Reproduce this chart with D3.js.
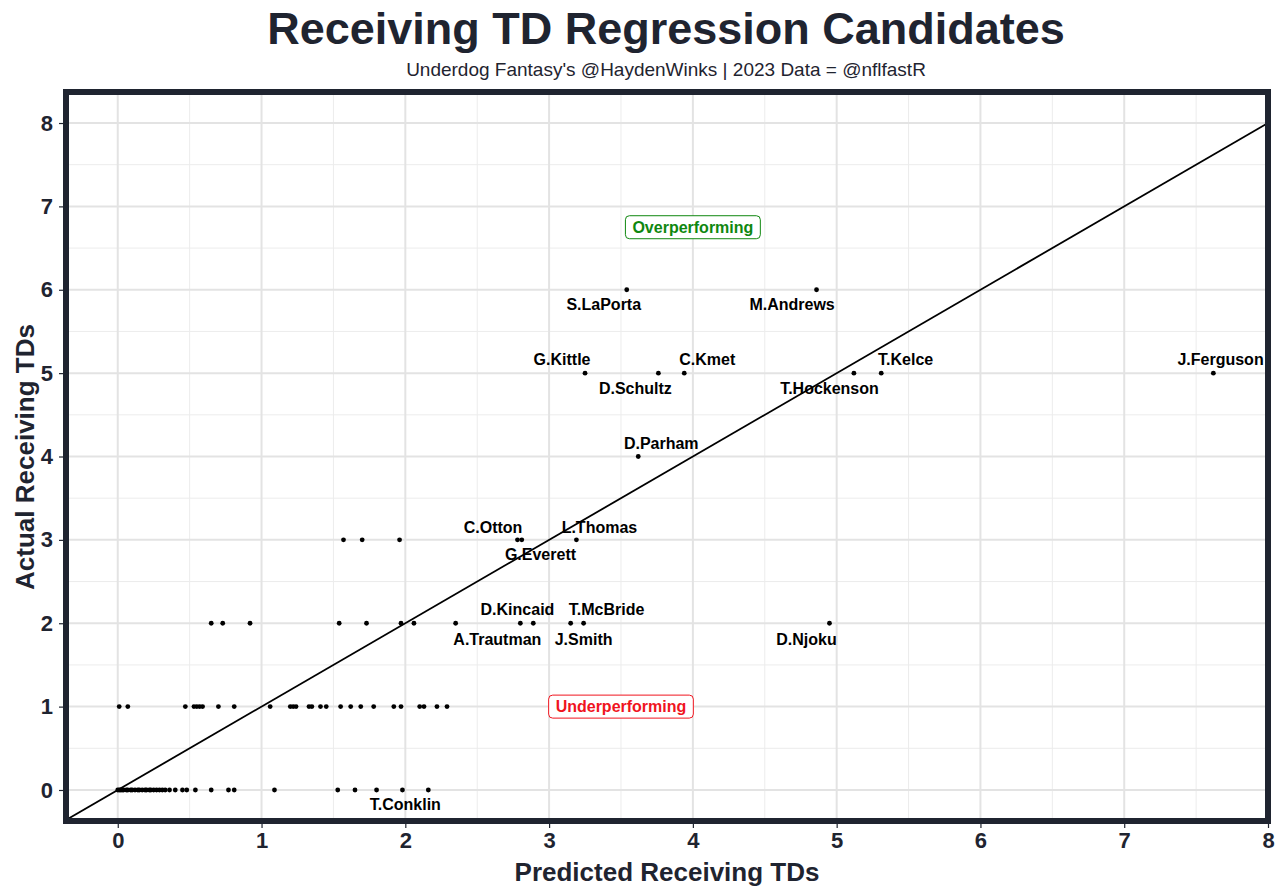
<!DOCTYPE html>
<html lang="en">
<head>
<meta charset="UTF-8">
<title>Receiving TD Regression Candidates</title>
<style>
    body { margin: 0; background: #fff; }
    text { font-family: "Liberation Sans", Arial, sans-serif; }
</style>
</head>
<body>
<svg id="chart" width="1280" height="896"></svg>
<script src="https://d3js.org/d3.v7.min.js"></script>
<script>
// predicted vs actual receiving TDs, grouped by actual TD count
const actual0 = [0, 0.01, 0.02, 0.03, 0.04, 0.06, 0.07, 0.09, 0.1, 0.12, 0.14, 0.15, 0.17, 0.19, 0.2, 0.22, 0.23, 0.25, 0.27, 0.29, 0.31, 0.33, 0.36,
                 0.4, 0.45, 0.48, 0.54, 0.65, 0.77, 0.81, 1.09, 1.53, 1.65, 1.8, 1.98, 2.16];
const actual1 = [0.01, 0.07, 0.47, 0.53, 0.55, 0.57, 0.59, 0.7, 0.81, 1.06, 1.2, 1.22, 1.24, 1.33, 1.35, 1.41, 1.45, 1.55, 1.62, 1.69, 1.78,
                 1.92, 1.97, 2.1, 2.13, 2.22, 2.29];
const actual2 = [0.65, 0.73, 0.92, 1.54, 1.73, 1.97, 2.06, 2.35, 2.8, 2.89, 3.15, 3.24, 4.95];
const actual3 = [1.57, 1.7, 1.96, 2.78, 2.81, 3.19];
const actual4 = [3.62];
const actual5 = [3.25, 3.76, 3.94, 5.12, 5.31, 7.62];
const actual6 = [3.54, 4.86];

// labelled players and where the repelled label sits (data units)
const labelNames = ["S.LaPorta", "M.Andrews", "G.Kittle", "D.Schultz", "C.Kmet", "T.Hockenson", "T.Kelce", "J.Ferguson",
                    "D.Parham", "C.Otton", "L.Thomas", "G.Everett", "D.Kincaid", "T.McBride", "A.Trautman", "J.Smith",
                    "D.Njoku", "T.Conklin"];
const labelTextX = [3.38, 4.69, 3.09, 3.6, 4.1, 4.95, 5.48, 7.67, 3.78, 2.61, 3.35, 2.94, 2.78, 3.4, 2.64, 3.24, 4.79, 2.0];
const labelTextY = [5.82, 5.82, 5.16, 4.81, 5.16, 4.81, 5.16, 5.16, 4.16, 3.15, 3.15, 2.82, 2.16, 2.16, 1.81, 1.81, 1.81, -0.18];

const xTicks = [0, 1, 2, 3, 4, 5, 6, 7, 8];
const yTicks = [0, 1, 2, 3, 4, 5, 6, 7, 8];

const notes = [
    { text: "Overperforming", x: 4, y: 6.75, color: "#0f870f" },
    { text: "Underperforming", x: 3.5, y: 1, color: "#f0141e" }
];

const points = [actual0, actual1, actual2, actual3, actual4, actual5, actual6]
    .flatMap((xs, td) => xs.map(p => ({ pred: p, act: td })));

const ink = "#1f2430";
const svg = d3.select("#chart");

const x = d3.scaleLinear().domain([-0.36, 8]).range([66, 1268]);
const y = d3.scaleLinear().domain([-0.372, 8.372]).range([821, 92]);

// grid
const minor = d3.range(-0.5, 8.5, 1);
svg.append("g").selectAll("line").data(minor.filter(v => v > -0.36)).enter().append("line")
    .attr("x1", d => x(d)).attr("x2", d => x(d)).attr("y1", y.range()[0]).attr("y2", y.range()[1])
    .attr("stroke", "#ececec").attr("stroke-width", 1);
svg.append("g").selectAll("line").data(minor.filter(v => v > -0.37)).enter().append("line")
    .attr("y1", d => y(d)).attr("y2", d => y(d)).attr("x1", x.range()[0]).attr("x2", x.range()[1])
    .attr("stroke", "#ececec").attr("stroke-width", 1);
svg.append("g").selectAll("line").data(xTicks).enter().append("line")
    .attr("x1", d => x(d)).attr("x2", d => x(d)).attr("y1", y.range()[0]).attr("y2", y.range()[1])
    .attr("stroke", "#e3e3e3").attr("stroke-width", 2);
svg.append("g").selectAll("line").data(yTicks).enter().append("line")
    .attr("y1", d => y(d)).attr("y2", d => y(d)).attr("x1", x.range()[0]).attr("x2", x.range()[1])
    .attr("stroke", "#e3e3e3").attr("stroke-width", 2);

// y = x reference line
svg.append("clipPath").attr("id", "panel").append("rect")
    .attr("x", 66).attr("y", 92).attr("width", 1202).attr("height", 729);
svg.append("line")
    .attr("clip-path", "url(#panel)")
    .attr("x1", x(-0.5)).attr("y1", y(-0.5)).attr("x2", x(8.5)).attr("y2", y(8.5))
    .attr("stroke", "#000").attr("stroke-width", 1.8);

// points
svg.append("g").selectAll("circle").data(points).enter().append("circle")
    .attr("cx", d => x(d.pred)).attr("cy", d => y(d.act)).attr("r", 2.4)
    .attr("fill", "#000");

// player labels
svg.append("g").selectAll("text").data(labelNames).enter().append("text")
    .attr("x", (d, i) => x(labelTextX[i])).attr("y", (d, i) => y(labelTextY[i]))
    .attr("text-anchor", "middle").attr("dominant-baseline", "central")
    .attr("font-size", 16).attr("font-weight", "bold").attr("fill", "#000")
    .text(d => d);

// annotation boxes
notes.forEach(n => {
    const g = svg.append("g");
    const t = g.append("text")
        .attr("x", x(n.x)).attr("y", y(n.y))
        .attr("text-anchor", "middle").attr("dominant-baseline", "central")
        .attr("font-size", 16).attr("font-weight", "bold").attr("fill", n.color)
        .text(n.text);
    const b = t.node().getBBox();
    g.insert("rect", "text")
        .attr("x", b.x - 7).attr("y", b.y - 3).attr("width", b.width + 14).attr("height", b.height + 6)
        .attr("rx", 4).attr("fill", "#fff").attr("stroke", n.color).attr("stroke-width", 1);
});

// panel border
svg.append("rect")
    .attr("x", 66).attr("y", 92).attr("width", 1202).attr("height", 729)
    .attr("fill", "none").attr("stroke", ink).attr("stroke-width", 6);

// axes
const xAxis = svg.append("g").attr("transform", "translate(0,824)")
    .call(d3.axisBottom(x).tickValues(xTicks).tickFormat(d3.format("d")).tickSize(4).tickPadding(4));
const yAxis = svg.append("g").attr("transform", "translate(63,0)")
    .call(d3.axisLeft(y).tickValues(yTicks).tickFormat(d3.format("d")).tickSize(4).tickPadding(6));
[xAxis, yAxis].forEach(a => {
    a.select(".domain").remove();
    a.selectAll("line").attr("stroke", ink).attr("stroke-width", 1.2);
    a.selectAll("text").attr("font-size", 22).attr("font-weight", "bold").attr("fill", ink)
        .style("font-family", "'Liberation Sans', Arial, sans-serif");
});

svg.append("text").attr("x", 667).attr("y", 881).attr("text-anchor", "middle")
    .attr("font-size", 26).attr("font-weight", "bold").attr("fill", ink)
    .text("Predicted Receiving TDs");
svg.append("text").attr("transform", "translate(34,457) rotate(-90)").attr("text-anchor", "middle")
    .attr("font-size", 26).attr("font-weight", "bold").attr("fill", ink)
    .text("Actual Receiving TDs");

// titles
svg.append("text").attr("x", 666).attr("y", 44).attr("text-anchor", "middle")
    .attr("font-size", 45).attr("font-weight", "bold").attr("fill", ink)
    .text("Receiving TD Regression Candidates");
svg.append("text").attr("x", 666).attr("y", 76).attr("text-anchor", "middle")
    .attr("font-size", 19).attr("fill", ink)
    .text("Underdog Fantasy's @HaydenWinks | 2023 Data = @nflfastR");
</script>
</body>
</html>
